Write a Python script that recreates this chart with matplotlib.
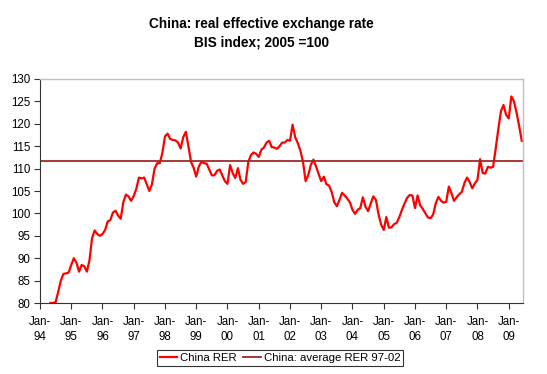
import matplotlib
matplotlib.use("Agg")
import matplotlib.pyplot as plt
import numpy as np

plt.rcParams['font.family'] = ['Liberation Sans', 'DejaVu Sans']

# Monthly China REER (BIS, 2005=100), starting May-1994 (month index 4 from Jan-1994)
start_month = 4
rer = [
    80.0, 80.0, 80.2, 82.5, 85.0, 86.5, 86.6, 86.8, 88.5, 90.0,        # m4-13
    89.0, 87.0, 88.5, 88.2, 87.0, 89.5, 94.5, 96.2, 95.4, 95.0,        # m14-23
    95.4, 96.3, 98.2, 98.5, 100.2, 100.6, 99.5, 98.8, 102.5, 104.2,    # m24-33
    103.8, 102.8, 103.9, 105.5, 108.0, 107.8, 108.0, 106.5, 105.0, 106.5,  # m34-43
    110.0, 111.2, 111.2, 113.5, 117.2, 117.8, 116.6, 116.4, 116.3, 115.8,  # m44-53
    114.5, 117.0, 118.2, 115.0, 111.5, 110.2, 108.2, 110.5, 111.5, 111.2,  # m54-63
    111.1, 109.8, 108.5, 108.5, 109.5, 109.8, 108.5, 107.2, 106.6, 110.8,  # m64-73
    109.0, 107.9, 110.1, 107.5, 106.6, 107.0, 111.5, 113.0, 113.6, 113.3,  # m74-83
    112.6, 114.2, 114.7, 115.8, 116.2, 114.8, 114.7, 114.4, 115.0, 115.8,  # m84-93
    115.8, 116.4, 116.2, 119.8, 117.0, 115.7, 114.0, 111.5, 107.2, 108.5,  # m94-103
    110.8, 112.0, 110.5, 108.8, 107.2, 108.2, 106.5, 106.2, 104.8, 102.5,  # m104-113
    101.6, 103.0, 104.6, 104.0, 103.3, 102.5, 100.8, 99.9, 100.8, 101.2,   # m114-123
    103.6, 101.5, 100.5, 102.2, 103.8, 103.0, 99.8, 97.5, 96.3, 99.2,      # m124-133
    96.8, 96.9, 97.6, 97.9, 99.2, 100.8, 102.2, 103.5, 104.1, 104.0,       # m134-143
    101.2, 104.0, 101.8, 101.0, 100.0, 99.1, 98.9, 99.8, 102.3, 103.7,     # m144-153
    102.8, 102.4, 102.6, 106.0, 104.5, 102.8, 103.6, 104.3, 104.8, 106.8,  # m154-163
    108.0, 107.0, 105.6, 106.7, 107.5, 112.1, 109.0, 108.9, 110.4, 110.2,  # m164-173
    110.4, 114.5, 118.8, 122.8, 124.2, 122.0, 121.2, 126.1, 125.0, 122.5,  # m174-183
    119.5, 116.2,                                                          # m184-185
]
avg_rer_97_02 = 111.8

tick_labels = ["Jan-\n%02d" % (y % 100) for y in range(1994, 2010)]
tick_months = [12 * i for i in range(len(tick_labels))]

x = np.arange(start_month, start_month + len(rer))

fig = plt.figure(figsize=(5.47, 3.74), dpi=100)
ax = fig.add_axes([0.0731, 0.1898, 0.8836, 0.599])

ax.plot(x, rer, color='#ff0000', lw=1.6, label='China RER', clip_on=True)
ax.axhline(avg_rer_97_02, color='#a02828', lw=1.3, label='China: average RER 97-02')

ax.set_xlim(0, 185.6)
ax.set_ylim(80, 130)
ax.set_yticks(np.arange(80, 131, 5))
ax.set_xticks(tick_months)
ax.set_xticklabels(tick_labels, linespacing=1.35)

ax.tick_params(axis='both', direction='out', length=4, width=0.8, color='#333333',
               labelsize=8.3, labelcolor='black')
ax.tick_params(axis='x', pad=5)
ax.tick_params(axis='y', pad=3)

for side in ['left', 'bottom']:
    ax.spines[side].set_color('#333333')
    ax.spines[side].set_linewidth(0.8)
for side in ['top', 'right']:
    ax.spines[side].set_color('#c0c0c0')
    ax.spines[side].set_linewidth(1.0)

fig.text(0.478, 0.936, "China: real effective exchange rate", ha='center', va='center',
         fontsize=9.8, fontweight='bold')
fig.text(0.478, 0.887, "BIS index; 2005 =100", ha='center', va='center',
         fontsize=9.8, fontweight='bold')

leg = fig.legend(loc='center', bbox_to_anchor=(0.512, 0.043), ncol=2, fontsize=8.2,
                 frameon=True, fancybox=False, edgecolor='black', handlelength=1.5,
                 handletextpad=0.3, columnspacing=0.6, borderpad=0.25)
leg.get_frame().set_linewidth(0.8)

fig.savefig("out.png", dpi=100)
